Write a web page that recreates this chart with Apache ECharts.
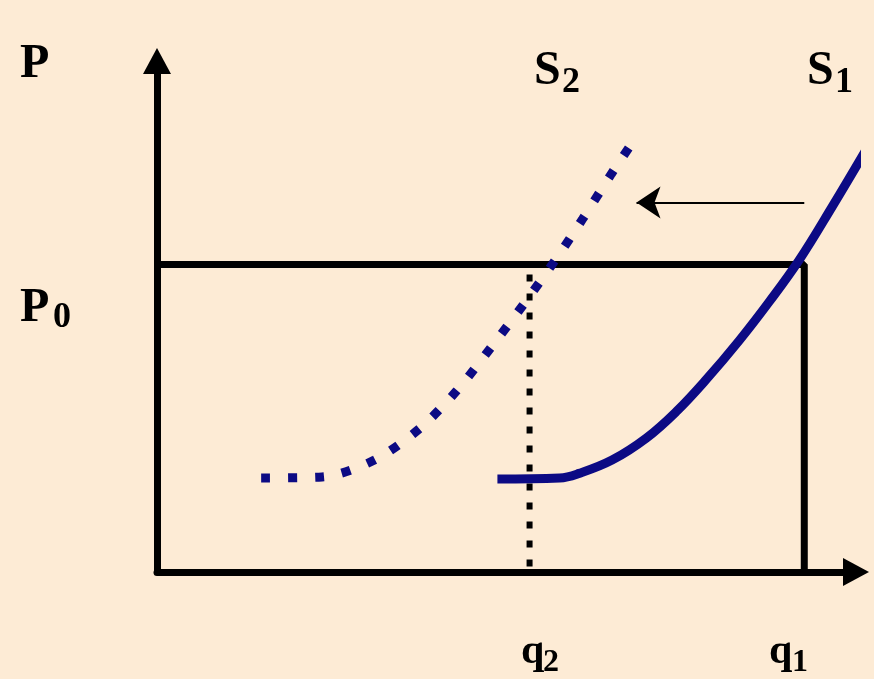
<!DOCTYPE html>
<html>
<head>
<meta charset="utf-8">
<script src="https://cdn.jsdelivr.net/npm/echarts@6/dist/echarts.min.js"></script>
<style>
  html, body { margin: 0; padding: 0; background: #fdebd5; }
  #chart { width: 874px; height: 679px; }
</style>
</head>
<body>
<div id="chart"></div>
<script>
// supply curves (x = quantity, y = price, 0..100 scale)
var s1Points = [
  [48.7, 18.2], [57.6, 18.4], [60.4, 19.3], [65.1, 21.9], [70.0, 26.2],
  [74.3, 31.4], [78.6, 37.7], [83.3, 45.3], [87.6, 52.9], [91.9, 61.1],
  [96.6, 71.5], [101.6, 83.0]
];
var s2Points = [
  [14.9, 18.4], [23.6, 18.6], [31.1, 21.9], [37.6, 28.1], [42.9, 35.5],
  [47.7, 43.8], [52.3, 52.1], [56.9, 60.9], [60.9, 69.1], [65.0, 77.9],
  [67.6, 83.2]
];
var p0 = 60.2;
var q1 = 92.6;
var q2 = 53.3;
var shiftArrow = [[92.6, 72.3], [68.6, 72.3]];

var navy = '#0c0a84';
var big = 'bold 48px "Liberation Serif", serif';
var sub = 'bold 36px "Liberation Serif", serif';
var qFont = 'bold 42px "Liberation Serif", serif';
var qSub = 'bold 32px "Liberation Serif", serif';

function label(txt, x, y, font) {
  return { type: 'text', x: x, y: y, style: { text: txt, font: font, fill: '#000' } };
}

var chart = echarts.init(document.getElementById('chart'));

var option = {
  backgroundColor: '#fdebd5',
  animation: false,
  grid: { left: 157, right: 18, top: 61, bottom: 107 },
  xAxis: {
    type: 'value', min: 0, max: 100,
    axisLine: {
      show: true, symbol: ['none', 'triangle'], symbolSize: [28, 26],
      lineStyle: { color: '#000', width: 7 }
    },
    axisTick: { show: false }, axisLabel: { show: false }, splitLine: { show: false }
  },
  yAxis: {
    type: 'value', min: 0, max: 100,
    axisLine: {
      show: true, symbol: ['none', 'triangle'], symbolSize: [28, 26],
      lineStyle: { color: '#000', width: 7 }
    },
    axisTick: { show: false }, axisLabel: { show: false }, splitLine: { show: false }
  },
  series: [
    {
      type: 'line', name: 'P0 box',
      data: [[0, p0], [q1, p0], [q1, 0]],
      symbol: 'none',
      lineStyle: { color: '#000', width: 7 }
    },
    {
      type: 'line', name: 'q2',
      data: [[q2, p0 - 2], [q2, 1]],
      symbol: 'none',
      lineStyle: { color: '#000', width: 6, type: [7, 12] }
    },
    {
      type: 'line', name: 'S1',
      data: s1Points,
      smooth: 0.4, symbol: 'none', clip: false,
      lineStyle: { color: navy, width: 9 }
    },
    {
      type: 'line', name: 'S2',
      data: s2Points,
      smooth: 0.3, symbol: 'none',
      lineStyle: { color: navy, width: 9, type: [9, 18] }
    },
    {
      type: 'lines', coordinateSystem: 'cartesian2d',
      symbol: ['none', 'arrow'], symbolSize: 24,
      lineStyle: { color: '#000', width: 2, opacity: 1 },
      data: [{ coords: shiftArrow }]
    }
  ],
  graphic: [
    label('P', 20, 41, big),
    label('P', 20, 285, big),
    label('0', 53, 300, sub),
    label('S', 534, 48, big),
    label('2', 562, 65, sub),
    label('S', 807, 48, big),
    label('1', 835, 65, sub),
    label('q', 521, 631, qFont),
    label('2', 543, 647, qSub),
    label('q', 769, 631, qFont),
    label('1', 792, 647, qSub)
  ]
};
chart.setOption(option);
</script>
</body>
</html>
